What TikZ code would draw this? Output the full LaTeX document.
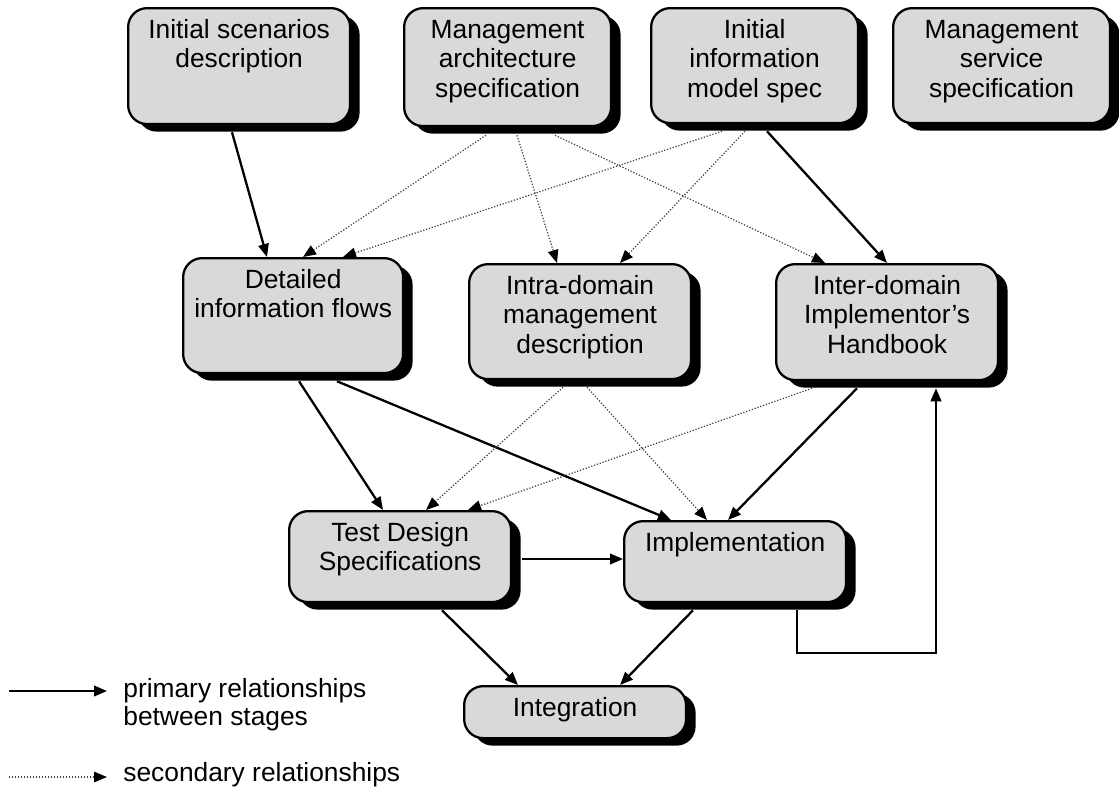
\documentclass[tikz,border=0pt]{standalone}
\usepackage{fontspec}
\setmainfont{Liberation Sans}
\usepackage{tikz}
\usetikzlibrary{arrows.meta,shadows,calc}
\definecolor{boxgray}{RGB}{217,217,217}
\newcommand{\stagetext}[2]{\parbox[c][#1][t]{4.1cm}{\centering\rule{0pt}{17pt}#2}}

\begin{document}
\begin{tikzpicture}[x=0.02cm,y=-0.02cm,font=\fontsize{15pt}{17pt}\selectfont,
    stage/.style={draw,line width=1.3pt,fill=boxgray,rounded corners=0.38cm,
        drop shadow={shadow xshift=0.19cm,shadow yshift=-0.15cm,fill=black,opacity=1},
        anchor=north west,inner sep=0pt,minimum width=4.44cm},
    primary/.style={line width=1.3pt,-{Triangle[length=0.26cm,width=0.21cm]}},
    secondary/.style={densely dotted,line width=0.7pt,draw=black!75,
        -{Triangle[length=0.26cm,width=0.21cm,color=black]}},
    legendtext/.style={anchor=base west,inner sep=0pt,font=\fontsize{15pt}{16pt}\selectfont}]
    \useasboundingbox (0,0) rectangle (1119,788);

    \node[stage] (isd) at (127,7) {\stagetext{2.32cm}{Initial scenarios\\description}};
    \node[stage,minimum width=4.14cm] (mas) at (403,7) {\stagetext{2.36cm}{Management\\architecture\\specification}};
    \node[stage,minimum width=4.14cm] (iim) at (650,7) {\stagetext{2.3cm}{Initial\\information\\model spec}};
    \node[stage,minimum width=4.34cm] (mss) at (892,7) {\stagetext{2.3cm}{Management\\service\\specification}};
    \node[stage,minimum width=4.4cm] (dif) at (182,257) {\stagetext{2.3cm}{Detailed\\information flows}};
    \node[stage] (idm) at (468,263) {\stagetext{2.3cm}{Intra-domain\\management\\description}};
    \node[stage] (ids) at (775,263) {\stagetext{2.32cm}{Inter-domain\\Implementor’s\\Handbook}};
    \node[stage] (tds) at (288,510) {\stagetext{1.82cm}{Test Design\\Specifications}};
    \node[stage] (imp) at (623,520) {\stagetext{1.62cm}{Implementation}};
    \node[stage] (itg) at (463,685) {\stagetext{1.04cm}{Integration}};

    \draw[primary] ($(isd.south west)+(105,7)$) -- ($(dif.north west)+(85,0)$);
    \draw[secondary] ($(mas.south west)+(83,8)$) -- ($(dif.north west)+(121,0)$);
    \draw[secondary] ($(mas.south west)+(114,8)$) -- ($(idm.north west)+(89,0)$);
    \draw[secondary] ($(mas.south west)+(152,8)$) -- ($(ids.north west)+(50,0)$);
    \draw[secondary] ($(iim.south west)+(72,7)$) -- ($(dif.north west)+(161,0)$);
    \draw[secondary] ($(iim.south west)+(95,7)$) -- ($(idm.north west)+(152,0)$);
    \draw[primary] ($(iim.south west)+(117,7)$) -- ($(ids.north west)+(112,0)$);

    \draw[primary] ($(dif.south west)+(117,7)$) -- ($(tds.north west)+(95,0)$);
    \draw[primary] ($(dif.south west)+(155,7)$) -- ($(imp.north west)+(48,0)$);
    \draw[secondary] ($(idm.south west)+(95,7)$) -- ($(tds.north west)+(138,0)$);
    \draw[secondary] ($(idm.south west)+(119,7)$) -- ($(imp.north west)+(84,0)$);
    \draw[secondary] ($(ids.south west)+(37,7)$) -- ($(tds.north west)+(180,0)$);
    \draw[primary] ($(ids.south west)+(82,7)$) -- ($(imp.north west)+(105,0)$);

    \draw[primary] ($(tds.north east)+(10,49)$) -- ($(imp.north west)+(0,39)$);
    \draw[primary] ($(tds.south west)+(154,7)$) -- ($(itg.north west)+(55,0)$);
    \draw[primary] ($(imp.south west)+(70,7)$) -- ($(itg.north west)+(157,0)$);
    \draw[primary] ($(imp.south west)+(174,7)$) -- ++(0,43) -| ($(ids.south west)+(161,7)$);

    \coordinate (pa) at (9,691);
    \coordinate (pb) at (107,691);
    \draw[primary] (pa) -- (pb);
    \node[legendtext] (prim) at (123,697) {\parbox[t]{6cm}{primary relationships\\between stages}};
    \coordinate (sa) at (9,777);
    \coordinate (sb) at (107,777);
    \draw[secondary] (sa) -- (sb);
    \node[legendtext] (sec) at (123,781) {secondary relationships};
\end{tikzpicture}
\end{document}
